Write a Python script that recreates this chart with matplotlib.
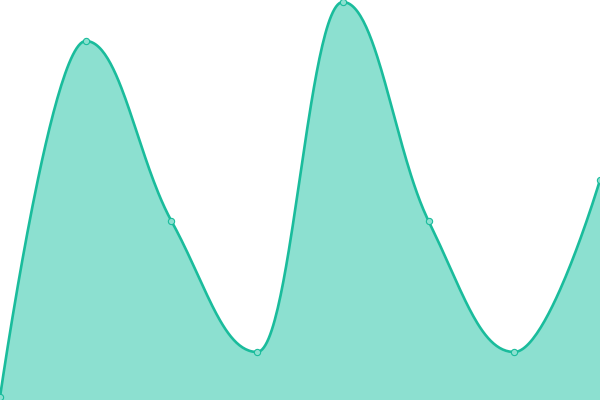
import numpy as np
import matplotlib
matplotlib.use("Agg")
import matplotlib.pyplot as plt

x_vals = [0, 1, 2, 3, 4, 5, 6, 7]
y_vals = [3, 359, 179, 48, 398, 179, 48, 220]

LINE = "#1abc9c"
FILL = "#8ce0d0"


def spline_path(xs, ys, smoothing=1.5, steps=60):
    # Highcharts-style spline: cubic bezier with clamped control points
    n = len(xs)
    left = [None] * n
    right = [None] * n
    for i in range(n):
        if i == 0 or i == n - 1:
            left[i] = (xs[i], ys[i])
            right[i] = (xs[i], ys[i])
            continue
        lx, ly = xs[i - 1], ys[i - 1]
        nx, ny = xs[i + 1], ys[i + 1]
        px, py = xs[i], ys[i]
        d = smoothing + 1
        lcx = (smoothing * px + lx) / d
        lcy = (smoothing * py + ly) / d
        rcx = (smoothing * px + nx) / d
        rcy = (smoothing * py + ny) / d
        if rcx != lcx:
            corr = ((rcy - lcy) * (rcx - px)) / (rcx - lcx) + py - rcy
            lcy += corr
            rcy += corr
        if lcy > ly and lcy > py:
            lcy = max(ly, py)
            rcy = 2 * py - lcy
        elif lcy < ly and lcy < py:
            lcy = min(ly, py)
            rcy = 2 * py - lcy
        if rcy > ny and rcy > py:
            rcy = max(ny, py)
            lcy = 2 * py - rcy
        elif rcy < ny and rcy < py:
            rcy = min(ny, py)
            lcy = 2 * py - rcy
        left[i] = (lcx, lcy)
        right[i] = (rcx, rcy)
    t = np.linspace(0, 1, steps)
    cx, cy = [], []
    for i in range(1, n):
        p0 = np.array([xs[i - 1], ys[i - 1]])
        p1 = np.array(right[i - 1])
        p2 = np.array(left[i])
        p3 = np.array([xs[i], ys[i]])
        pts = ((1 - t) ** 3)[:, None] * p0 + (3 * (1 - t) ** 2 * t)[:, None] * p1 \
            + (3 * (1 - t) * t ** 2)[:, None] * p2 + (t ** 3)[:, None] * p3
        cx.extend(pts[:, 0])
        cy.extend(pts[:, 1])
    return np.array(cx), np.array(cy)


sx, sy = spline_path(x_vals, y_vals)

fig = plt.figure(figsize=(6, 4), dpi=100)
ax = fig.add_axes([0, 0, 1, 1])
ax.fill_between(sx, sy, 0, color=FILL, lw=0)
ax.plot(sx, sy, color=LINE, lw=1.9, solid_capstyle="round")
ax.plot(x_vals, y_vals, "o", ms=4.5, mfc=FILL, mec=LINE, mew=0.8, clip_on=True)
ax.set_xlim(0, 7)
ax.set_ylim(0, 400)
ax.axis("off")
fig.savefig("out.png", dpi=100)
